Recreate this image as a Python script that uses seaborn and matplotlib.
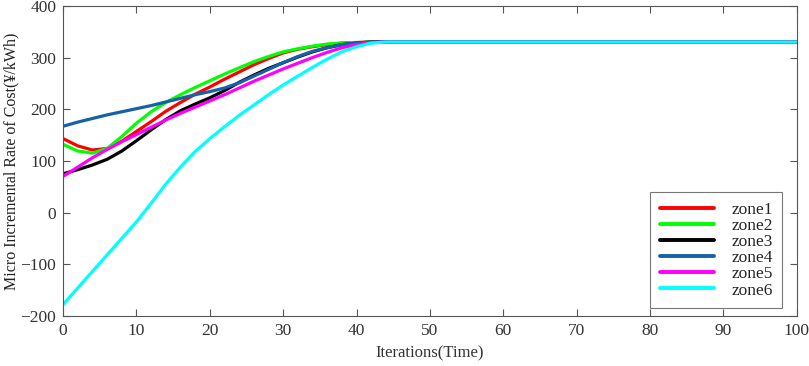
import numpy as np
import pandas as pd
import matplotlib
matplotlib.use("Agg")
import matplotlib.pyplot as plt
import seaborn as sns

# iterations sampled every 2 steps until convergence, then a few flat points
iters = list(range(0, 46, 2)) + [50, 60, 70, 80, 90, 100]

zone1 = [143, 129, 121, 124, 138, 157, 176, 196, 213, 229, 243, 258, 272, 286,
         298, 309, 316, 321, 325, 328, 329, 330, 330, 330]
zone2 = [132, 119, 115, 124, 147, 173, 195, 213, 228, 242, 255, 268, 280, 292,
         302, 311, 317, 322, 326, 328, 329, 330, 330, 330]
zone3 = [75, 83, 92, 103, 119, 139, 160, 180, 197, 210, 222, 236, 252, 266,
         279, 290, 301, 311, 319, 325, 328, 330, 330, 330]
zone4 = [167, 175, 182, 189, 195, 201, 207, 214, 221, 228, 234, 241, 251, 264,
         277, 290, 302, 312, 319, 325, 328, 330, 330, 330]
zone5 = [70, 88, 106, 122, 137, 151, 165, 179, 192, 204, 216, 228, 241, 254,
         266, 278, 289, 300, 310, 319, 325, 329, 330, 330]
zone6 = [-178, -146, -114, -82, -50, -18, 18, 55, 88, 118, 143, 166, 188, 208,
         228, 247, 264, 281, 297, 311, 321, 328, 330, 330]

zones = {"zone1": zone1, "zone2": zone2, "zone3": zone3,
         "zone4": zone4, "zone5": zone5, "zone6": zone6}
colors = {"zone1": "#ff0000", "zone2": "#00ff00", "zone3": "#000000",
          "zone4": "#1562aa", "zone5": "#ff00ff", "zone6": "#00ffff"}

rows = []
for name, vals in zones.items():
    # pad the flat tail after convergence
    vals = vals + [vals[-1]] * (len(iters) - len(vals))
    for x, y in zip(iters, vals):
        rows.append({"iter": x, "value": y, "zone": name})
df = pd.DataFrame(rows)

sns.set_style("ticks")
plt.rcParams["font.family"] = ["Liberation Serif", "DejaVu Serif"]

fig = plt.figure(figsize=(8.09, 3.66), dpi=100)
ax = fig.add_axes([0.078, 0.137, 0.907, 0.847])

sns.lineplot(data=df, x="iter", y="value", hue="zone", palette=colors,
             linewidth=2.3, ax=ax, sort=True)

ax.set_xlim(0, 100)
ax.set_ylim(-200, 400)
ax.set_xticks(range(0, 101, 10))
ax.set_yticks(range(-200, 401, 100))
ax.set_yticklabels(["\u2212200", "\u2212100", "0", "100", "200", "300", "400"])
ax.tick_params(direction="in", top=True, right=True, length=5, width=0.8,
               color="#555555", labelcolor="#333333", labelsize=12.5, pad=5)
for sp in ax.spines.values():
    sp.set_visible(True)
    sp.set_color("#555555")
    sp.set_linewidth(0.8)

ax.set_xlabel("Iterations(Time)", fontsize=12, color="#333333", labelpad=5)
ax.set_ylabel("Micro Incremental Rate of Cost(\u00a5/kWh)", fontsize=11.5,
              color="#222222", labelpad=1)

leg = ax.legend(loc="lower right", bbox_to_anchor=(0.98, 0.025), fontsize=12.5,
                frameon=True, fancybox=False, handlelength=3.1,
                labelspacing=0.0, borderpad=0.55, handletextpad=1.0,
                borderaxespad=0)
leg.get_frame().set_edgecolor("#555555")
leg.get_frame().set_linewidth(0.8)
for line in leg.get_lines():
    line.set_linewidth(2.8)

fig.savefig("out.png", dpi=100)
